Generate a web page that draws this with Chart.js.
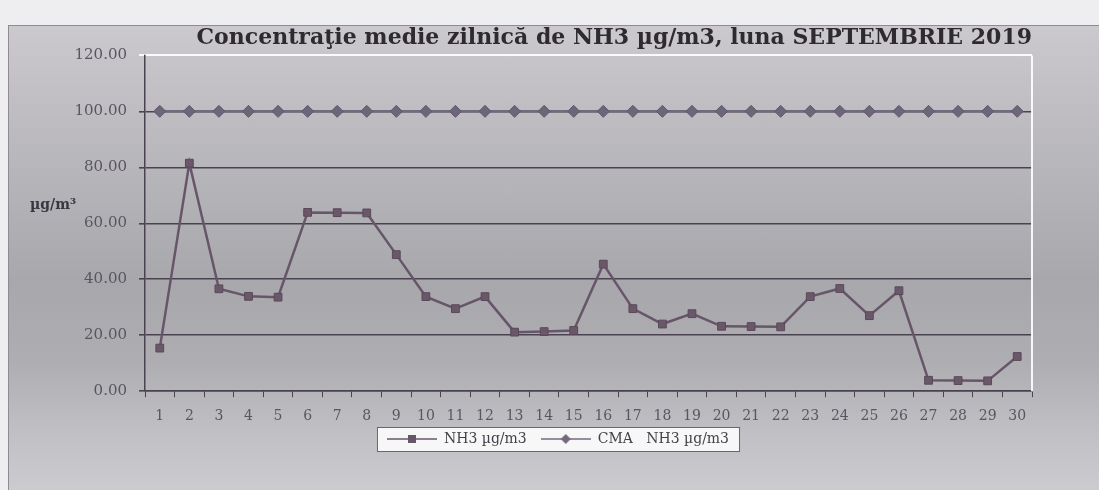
<!DOCTYPE html>
<html>
<head>
<meta charset="utf-8">
<title>NH3 septembrie 2019</title>
<script src="https://cdn.jsdelivr.net/npm/chart.js@4.4.1/dist/chart.umd.min.js"></script>
<style>
  html, body { margin: 0; padding: 0; background: #eeeef0; }
  #wrap { position: relative; width: 1099px; height: 490px; overflow: hidden; }
  #frame {
    position: absolute; left: 8px; top: 25px; right: -2px; bottom: -2px;
    border: 1px solid #8e8c92;
    background: linear-gradient(180deg, #cbc9ce 0%, #c1bfc4 15%, #b4b3b8 35%, #a8a7ac 55%, #aeadb2 72%, #c1c0c4 88%, #cccbcf 100%);
  }
  #chart { position: absolute; left: 0; top: 0; }
</style>
</head>
<body>
<div id="wrap">
  <div id="frame"></div>
  <canvas id="chart" width="1099" height="490"></canvas>
</div>
<script>
(function () {
  "use strict";

  // data
  const days = ['1','2','3','4','5','6','7','8','9','10','11','12','13','14','15',
                '16','17','18','19','20','21','22','23','24','25','26','27','28','29','30'];
  const nh3Values = [15.4, 81.5, 36.6, 33.9, 33.6, 63.9, 63.8, 63.7, 48.8, 33.8,
                     29.5, 33.8, 21.1, 21.3, 21.7, 45.4, 29.5, 24.0, 27.7, 23.2,
                     23.1, 23.0, 33.8, 36.7, 27.0, 35.9, 3.9, 3.8, 3.7, 12.4];
  const cmaValues = [100, 100, 100, 100, 100, 100, 100, 100, 100, 100,
                     100, 100, 100, 100, 100, 100, 100, 100, 100, 100,
                     100, 100, 100, 100, 100, 100, 100, 100, 100, 100];
  const yTickValues = [0, 20, 40, 60, 80, 100, 120];

  const titleText = 'Concentraţie medie zilnică de NH3 µg/m3, luna SEPTEMBRIE 2019';
  const unitText = 'µg/m³';

  // colours
  const nh3_color  = '#67566a';
  const cma_color  = '#736a7e';
  const grid_color = '#4a4250';
  const tick_color = '#5a5660';

  // little "line with marker" samples for the legend, Excel style
  function legendMark(color, shape) {
    const c = document.createElement('canvas');
    c.width = 50; c.height = 12;
    const g = c.getContext('2d');
    g.strokeStyle = color; g.lineWidth = 1.5;
    g.beginPath(); g.moveTo(0, 6); g.lineTo(50, 6); g.stroke();
    g.fillStyle = color;
    if (shape === 'square') {
      g.fillRect(21, 2, 8, 8);
    } else {
      g.beginPath(); g.moveTo(25, 1); g.lineTo(30, 6); g.lineTo(25, 11); g.lineTo(20, 6);
      g.closePath(); g.fill();
    }
    return c;
  }
  const marks = [legendMark(nh3_color, 'square'), legendMark(cma_color, 'diamond')];

  // white box behind legend + white plot border + horizontal unit label
  const decorations = {
    id: 'decorations',
    afterLayout(chart) {
      chart.legend.left += 42;
      chart.legend.right += 42;
      chart.legend.top -= 18;
      chart.legend.bottom -= 18;
    },
    beforeDraw(chart) {
      const boxes = chart.legend.legendHitBoxes;
      if (!boxes || !boxes.length) return;
      const first = boxes[0], last = boxes[boxes.length - 1];
      const ctx = chart.ctx;
      const x1 = first.left - 10, x2 = last.left + last.width + 10;
      const y1 = first.top - 5, y2 = first.top + first.height + 5;
      ctx.save();
      ctx.fillStyle = '#f7f7f8';
      ctx.strokeStyle = '#6a6670';
      ctx.lineWidth = 1;
      ctx.fillRect(x1, y1, x2 - x1, y2 - y1);
      ctx.strokeRect(x1 + 0.5, y1 + 0.5, x2 - x1, y2 - y1);
      ctx.restore();
    },
    afterDraw(chart) {
      const ctx = chart.ctx;
      const a = chart.chartArea;
      ctx.save();
      ctx.strokeStyle = 'rgba(255,255,255,0.9)';
      ctx.lineWidth = 2;
      ctx.beginPath(); ctx.moveTo(a.right, a.top); ctx.lineTo(a.right, a.bottom); ctx.stroke();
      ctx.font = 'bold 14px "DejaVu Serif"';
      ctx.fillStyle = '#3a3640';
      ctx.textAlign = 'left';
      ctx.textBaseline = 'middle';
      ctx.fillText(unitText, 30, 205);
      ctx.restore();
    }
  };

  const ctx = document.getElementById('chart').getContext('2d');
  new Chart(ctx, {
    type: 'line',
    data: {
      labels: days,
      datasets: [{
        label: 'NH3 µg/m3',
        data: nh3Values,
        borderColor: nh3_color,
        backgroundColor: nh3_color,
        borderWidth: 2.5,
        pointStyle: 'rect',
        pointRadius: 5.5,
        pointBackgroundColor: '#6b576a',
        pointBorderColor: '#5a4a59',
        pointBorderWidth: 1,
        tension: 0
      },
      {
        label: 'CMA   NH3 µg/m3',
        data: cmaValues,
        borderColor: cma_color,
        backgroundColor: cma_color,
        borderWidth: 2.5,
        pointStyle: 'rectRot',
        pointRadius: 6,
        pointBackgroundColor: '#6c6678',
        pointBorderColor: '#5f576a',
        pointBorderWidth: 1,
        tension: 0
      }]
    },
    options: {
      responsive: false,
      animation: false,
      devicePixelRatio: 1,
      layout: {
        padding: { left: 0, right: 67, top: 0, bottom: 16 }
      },
      scales: {
        x: {
          offset: true,
          border: { display: true, color: grid_color, width: 1.5 },
          grid: {
            offset: true,
            drawOnChartArea: false,
            drawTicks: true,
            tickLength: 6,
            color: grid_color
          },
          ticks: {
            color: tick_color,
            padding: 11,
            maxRotation: 0,
            autoSkip: false,
            font: { family: '"DejaVu Serif"', size: 14 }
          }
        },
        y: {
          min: 0,
          max: 120,
          afterBuildTicks: (scale) => {
            scale.ticks = yTickValues.map(v => ({ value: v }));
          },
          afterFit: (scale) => { scale.width = 145; },
          border: { display: true, color: grid_color, width: 1.5 },
          grid: {
            tickLength: 6,
            lineWidth: (c) => (c.tick && c.tick.value === 120 ? 2 : 1.6),
            color: (c) => (c.tick && c.tick.value === 120 ? 'rgba(255,255,255,0.9)' : grid_color)
          },
          ticks: {
            color: tick_color,
            padding: 12,
            font: { family: '"DejaVu Serif"', size: 15 },
            callback: (v) => Number(v).toFixed(2)
          }
        }
      },
      plugins: {
        title: {
          display: true,
          text: titleText,
          align: 'end',
          color: '#2e2a30',
          font: { family: '"DejaVu Serif"', size: 22, weight: 'bold' },
          padding: { top: 25, bottom: 4 }
        },
        legend: {
          display: true,
          position: 'bottom',
          labels: {
            usePointStyle: true,
            pointStyleWidth: 50,
            padding: 14,
            color: '#45414a',
            font: { family: '"DejaVu Serif"', size: 14 },
            generateLabels: (chart) => chart.data.datasets.map((ds, i) => ({
              text: ds.label,
              pointStyle: marks[i],
              fillStyle: 'transparent',
              strokeStyle: 'transparent',
              lineWidth: 0,
              fontColor: '#45414a',
              hidden: false,
              datasetIndex: i
            }))
          }
        },
        tooltip: { enabled: false }
      }
    },
    plugins: [decorations]
  });
})();
</script>
</body>
</html>
